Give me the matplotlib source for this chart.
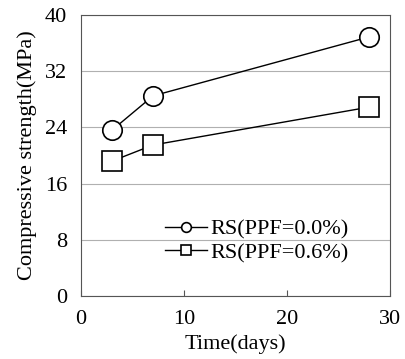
import matplotlib
matplotlib.use("Agg")
import matplotlib.pyplot as plt

days = [3, 7, 28]
rs_00 = [23.6, 28.5, 36.9]
rs_06 = [19.2, 21.5, 26.9]
labels = ["RS(PPF=0.0%)", "RS(PPF=0.6%)"]

plt.rcParams['font.family'] = ['Liberation Serif', 'DejaVu Serif']
fig = plt.figure(figsize=(4.06, 3.59), dpi=100)
ax = fig.add_axes([0.1995, 0.1755, 0.761, 0.7825])
ax.plot(days, rs_00, color='black', lw=1, marker='o', ms=14, mfc='white', mec='black', mew=1.2, label=labels[0])
ax.plot(days, rs_06, color='black', lw=1, marker='s', ms=15, mfc='white', mec='black', mew=1.2, label=labels[1])
ax.set_xlim(0, 30)
ax.set_ylim(0, 40)
ax.set_xticks([0, 10, 20, 30])
ax.set_yticks([0, 8, 16, 24, 32, 40])
ax.yaxis.grid(True, color='#b0b0b0', lw=0.8)
ax.set_axisbelow(True)
ax.tick_params(direction='in', labelsize=16, length=4, color='#555555')
ax.tick_params(axis='x', pad=10)
ax.tick_params(axis='y', length=0, pad=10)
for s in ax.spines.values():
    s.set_color('#555555')
ax.set_xlabel('Time(days)', fontsize=16, labelpad=4)
ax.set_ylabel('Compressive strength(MPa)', fontsize=16, labelpad=6)
ax.legend(loc='lower right', bbox_to_anchor=(0.903, 0.077), frameon=False, fontsize=16,
          markerscale=0.5, handlelength=1.9, handletextpad=0.15, labelspacing=0.15, borderpad=0)
fig.savefig('out.png', dpi=100)
